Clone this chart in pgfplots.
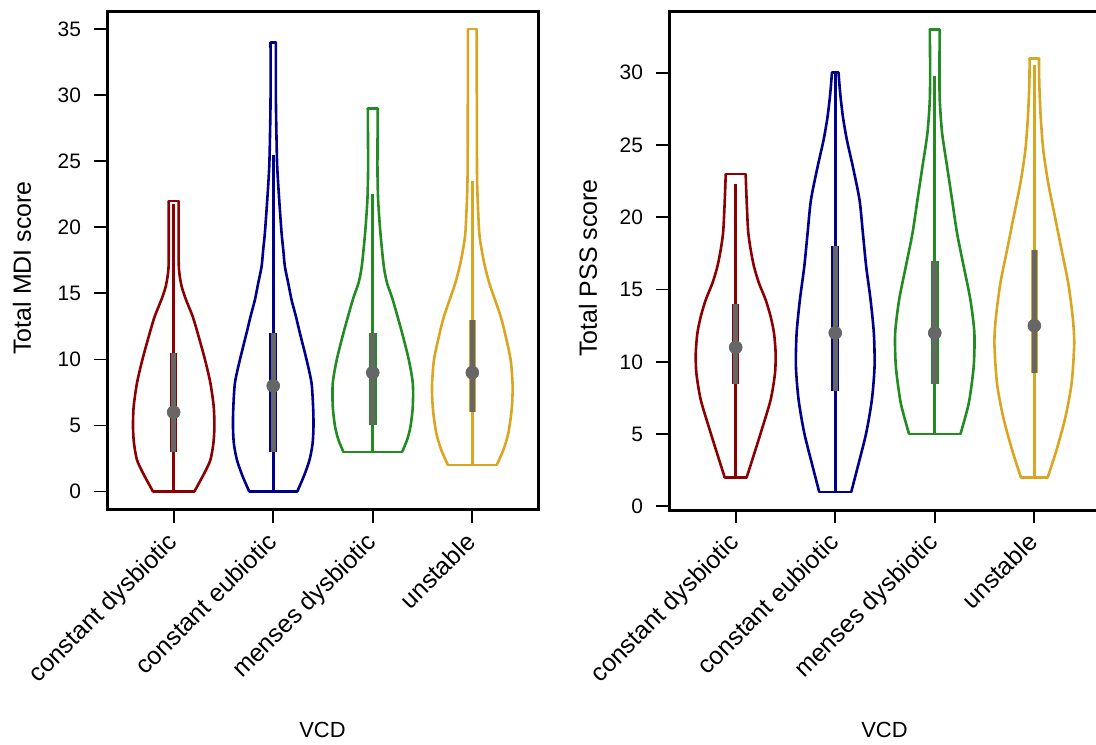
\documentclass[border=0pt]{standalone}
\usepackage{fontspec}
\setmainfont{Liberation Sans}
\usepackage{pgfplots}
\usepackage{pgfplotstable}
\pgfplotsset{compat=1.18}

\definecolor{vred}{HTML}{8B0000}
\definecolor{vblue}{HTML}{00008B}
\definecolor{vgreen}{HTML}{228B22}
\definecolor{vgold}{HTML}{DAA520}
\definecolor{vgrey}{HTML}{666666}

% violin half-widths (w, in category units) against score (y)
\pgfplotstableread{
y w
0 0.208
1.39 0.308
2.40 0.369
3.66 0.399
4.92 0.409
6.43 0.402
8.20 0.369
9.97 0.315
11.99 0.241
13.25 0.191
14.51 0.124
15.52 0.080
16.53 0.057
17.54 0.050
22 0.050
}\mdiA
\pgfplotstableread{
y w
0 0.241
1.20 0.310
2.40 0.365
3.60 0.395
4.80 0.404
6.18 0.402
8.20 0.385
9.97 0.335
11.99 0.268
13.25 0.228
14.51 0.184
15.77 0.151
17.03 0.117
18.29 0.101
19.56 0.084
22.08 0.060
24.60 0.040
27.13 0.032
29.65 0.027
34 0.027
}\mdiB
\pgfplotstableread{
y w
3 0.295
3.91 0.345
4.92 0.379
6.43 0.402
8.20 0.402
9.97 0.362
11.99 0.295
14.51 0.201
15.77 0.144
17.03 0.111
19.56 0.077
22.08 0.054
24.60 0.047
29 0.050
}\mdiC
\pgfplotstableread{
y w
2 0.245
3.15 0.312
4.42 0.362
6.18 0.395
7.95 0.405
9.97 0.385
11.99 0.328
13.25 0.285
14.51 0.228
15.77 0.171
17.03 0.127
18.29 0.094
19.56 0.070
22.08 0.054
24.60 0.047
35 0.044
}\mdiD

\pgfplotstableread{
y w
2 0.110
3.23 0.167
5.07 0.251
7.37 0.351
9.22 0.395
10.60 0.401
11.98 0.385
13.13 0.351
14.29 0.301
15.44 0.234
16.59 0.184
17.74 0.151
18.89 0.127
20.05 0.117
21.66 0.107
23 0.100
}\pssA
\pgfplotstableread{
y w
1 0.161
2.76 0.227
5.07 0.311
7.37 0.368
9.68 0.395
11.98 0.388
14.29 0.355
16.59 0.311
18.89 0.278
21.20 0.244
23.50 0.177
25.35 0.117
26.96 0.077
28.57 0.050
30 0.033
}\pssB
\pgfplotstableread{
y w
5 0.258
6.22 0.308
7.37 0.348
9.68 0.391
11.98 0.398
14.29 0.358
16.59 0.291
18.89 0.224
21.20 0.174
23.50 0.124
25.81 0.074
28.11 0.050
30.41 0.047
33 0.050
}\pssC
\pgfplotstableread{
y w
2 0.134
3.92 0.224
6.22 0.314
8.53 0.375
11.29 0.401
13.13 0.385
15.44 0.341
17.74 0.274
20.05 0.207
22.35 0.140
24.65 0.090
26.96 0.064
29.26 0.050
31 0.047
}\pssD

% table, position, colour, bottom y, bottom w, top y, top w
\newcommand{\violin}[7]{%
  \addplot[#3, line width=1.3bp, smooth, tension=0.45] table[x expr=#2+\thisrow{w}, y=y] {#1};
  \addplot[#3, line width=1.3bp, smooth, tension=0.45] table[x expr=#2-\thisrow{w}, y=y] {#1};
  \addplot[#3, line width=1.3bp, line cap=round] table[x expr=#2+\thisrow{s}*#5, y expr=#4, row sep=\\] {s\\-1\\1\\};
  \addplot[#3, line width=1.3bp, line cap=round] table[x expr=#2+\thisrow{s}*#7, y expr=#6, row sep=\\] {s\\-1\\1\\};
}
% position, whisker low, whisker high, q1, q3, median, colour
\newcommand{\vstats}[7]{%
  \addplot[#7, line width=1.3bp] coordinates {(#1,#2) (#1,#3)};
  \addplot[#7, line width=3.8bp] coordinates {(#1,#4) (#1,#5)};
  \addplot[vgrey, line width=2.6bp] coordinates {(#1,#4) (#1,#5)};
  \addplot[only marks, mark=*, mark size=3.2bp, color=vgrey] coordinates {(#1,#6)};
}

\pgfplotsset{vstyle/.style={
  scale only axis, width=215.5bp, height=249bp, anchor=south west,
  xmin=0.33, xmax=4.66, xtick={1,2,3,4},
  xticklabels={constant dysbiotic,constant eubiotic,menses dysbiotic,unstable},
  tick pos=left, tick align=outside, major tick length=6.5bp,
  every tick/.style={black, line width=0.9bp},
  axis line style={line width=1.5bp},
  /pgf/number format/assume math mode=true,
  yticklabel style={font=\fontsize{10.5}{12}\selectfont, xshift=-3bp},
  xticklabel style={font=\fontsize{12.5}{14}\selectfont, xshift=-4bp, yshift=1bp, rotate=45, anchor=north east},
  xlabel={VCD},
  xlabel style={at={(rel axis cs:0.5,-0.442)}, anchor=center, font=\fontsize{11}{13}\selectfont},
  ylabel style={anchor=center, font=\fontsize{12.5}{14}\selectfont},
  clip=false,
}}

\begin{document}
\begin{tikzpicture}
\path[use as bounding box] (0,0) rectangle (548bp,372.5bp);

\begin{axis}[vstyle, at={(53.5bp,117.5bp)},
  ymin=-1.4, ymax=36.3, ytick={0,5,...,35},
  ylabel={Total MDI score},
  ylabel style={at={(rel axis cs:-0.197,0.486)}}]
\violin{\mdiA}{1}{vred}{0}{0.208}{22}{0.050}
\violin{\mdiB}{2}{vblue}{0}{0.241}{34}{0.027}
\violin{\mdiC}{3}{vgreen}{3}{0.295}{29}{0.050}
\violin{\mdiD}{4}{vgold}{2}{0.245}{35}{0.044}
\vstats{1}{0}{21.8}{3}{10.5}{6}{vred}
\vstats{2}{0}{25.5}{3}{12}{8}{vblue}
\vstats{3}{3}{22.5}{5}{12}{9}{vgreen}
\vstats{4}{2}{23.5}{6}{13}{9}{vgold}
\end{axis}

\begin{axis}[vstyle, at={(334.5bp,117.5bp)},
  ymin=-0.25, ymax=34.2, ytick={0,5,...,30},
  ylabel={Total PSS score},
  ylabel style={at={(rel axis cs:-0.188,0.486)}}]
\violin{\pssA}{1}{vred}{2}{0.110}{23}{0.100}
\violin{\pssB}{2}{vblue}{1}{0.161}{30}{0.033}
\violin{\pssC}{3}{vgreen}{5}{0.258}{33}{0.050}
\violin{\pssD}{4}{vgold}{2}{0.134}{31}{0.047}
\vstats{1}{2}{22.3}{8.5}{14}{11}{vred}
\vstats{2}{1}{30}{8}{18}{12}{vblue}
\vstats{3}{5}{29.8}{8.5}{17}{12}{vgreen}
\vstats{4}{2}{30.5}{9.25}{17.75}{12.5}{vgold}
\end{axis}
\end{tikzpicture}
\end{document}
